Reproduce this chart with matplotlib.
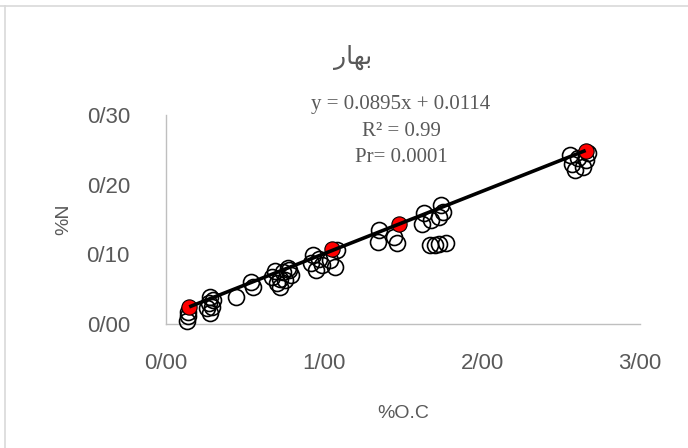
import matplotlib
matplotlib.use("Agg")
import matplotlib.pyplot as plt
from matplotlib.lines import Line2D

# Spring samples: organic carbon (%) vs nitrogen (%)
oc = [0.13, 0.14, 0.14, 0.28, 0.27, 0.26, 0.28, 0.30, 0.29, 0.44, 0.54, 0.55,
      0.67, 0.70, 0.72, 0.74, 0.77, 0.78, 0.72, 0.75, 0.79, 0.69,
      0.93, 0.92, 0.95, 0.99, 1.04, 1.07, 1.08, 0.97,
      1.35, 1.34, 1.44, 1.46,
      1.63, 1.62, 1.74, 1.73, 1.75, 1.68,
      1.67, 1.70, 1.73, 1.77,
      2.56, 2.57, 2.59, 2.64, 2.66, 2.61, 2.67]
n = [0.005, 0.012, 0.017, 0.039, 0.030, 0.023, 0.016, 0.034, 0.024, 0.039, 0.060, 0.053,
     0.067, 0.059, 0.053, 0.075, 0.080, 0.077, 0.065, 0.063, 0.070, 0.076,
     0.099, 0.087, 0.077, 0.084, 0.092, 0.082, 0.106, 0.094,
     0.135, 0.118, 0.125, 0.116,
     0.159, 0.144, 0.171, 0.154, 0.161, 0.149,
     0.113, 0.113, 0.115, 0.116,
     0.242, 0.230, 0.221, 0.226, 0.236, 0.238, 0.245]

# Group means
mean_oc = [0.147, 1.049, 1.477, 2.656]
mean_n = [0.024, 0.107, 0.144, 0.249]

# Linear fit
slope = 0.0895
intercept = 0.0114

x_ticks = [0, 1, 2, 3]
x_tick_labels = ["0/00", "1/00", "2/00", "3/00"]
y_ticks = [0.0, 0.1, 0.2, 0.3]
y_tick_labels = ["0/00", "0/10", "0/20", "0/30"]

W, H = 688, 448
fig = plt.figure(figsize=(W / 100, H / 100), dpi=100)
ax = fig.add_axes([166 / W, 1 - 324 / H, (640 - 166) / W, (324 - 115) / H])

ax.plot(oc, n, linestyle="none", marker="o", markersize=11.5,
        markerfacecolor="none", markeredgecolor="black", markeredgewidth=1.2,
        zorder=3, clip_on=False)
ax.plot(mean_oc, mean_n, linestyle="none", marker="o", markersize=11,
        markerfacecolor="#ff0000", markeredgecolor="black", markeredgewidth=0.8,
        zorder=4, clip_on=False)

x0, x1 = min(mean_oc), max(mean_oc)
ax.plot([x0, x1], [slope * x0 + intercept, slope * x1 + intercept],
        color="black", linewidth=2.6, zorder=5, solid_capstyle="butt")

ax.set_xlim(0, 3)
ax.set_ylim(0, 0.30)
ax.set_xticks(x_ticks)
ax.set_xticklabels(x_tick_labels)
ax.set_yticks(y_ticks)
ax.set_yticklabels(y_tick_labels)
for lab in ax.get_xticklabels() + ax.get_yticklabels():
    lab.set_family("Liberation Sans")
ax.tick_params(length=0, labelsize=16, labelcolor="#595959")
ax.tick_params(axis="x", pad=21)
ax.tick_params(axis="y", pad=26)

for side in ("top", "right"):
    ax.spines[side].set_visible(False)
for side in ("left", "bottom"):
    ax.spines[side].set_color("#bfbfbf")
    ax.spines[side].set_linewidth(1.0)

ax.set_xlabel("%O.C", fontsize=14, color="#595959", labelpad=22,
              family="Liberation Sans")
ax.set_ylabel("%N", fontsize=14, color="#595959", labelpad=10,
              family="Liberation Sans")

# Title: spring (Persian), written with contextual letter forms
fig.text(353 / W, 1 - 57 / H, "\uFEAD\uFE8E\uFEEC\uFE91", ha="center", va="center",
         fontsize=18, color="#595959", family="DejaVu Sans")

eq_lines = ["y = 0.0895x + 0.0114", "R\u00b2 = 0.99", "Pr= 0.0001"]
for i, s in enumerate(eq_lines):
    fig.text(401 / W, 1 - (104 + 27 * i) / H, s, ha="center", va="center",
             fontsize=15, color="#595959", family="Liberation Serif")

# Chart area frame edges
fig.add_artist(Line2D([0, 1], [1 - 6 / H, 1 - 6 / H], color="#d9d9d9", linewidth=1.2))
fig.add_artist(Line2D([5 / W, 5 / W], [0, 1 - 6 / H], color="#d9d9d9", linewidth=1.2))

fig.savefig("out.png", dpi=100)
